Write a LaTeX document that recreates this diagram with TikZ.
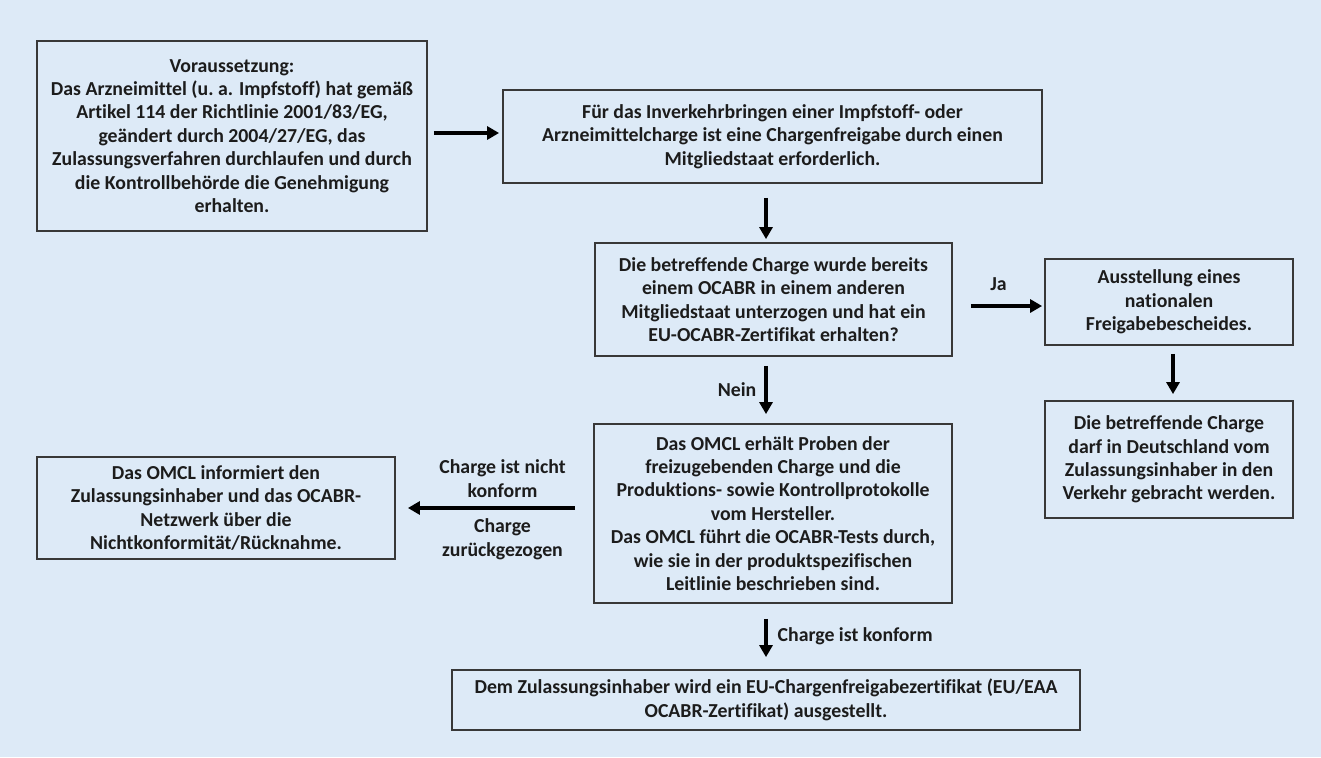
\documentclass[tikz,border=0pt]{standalone}
\usepackage{fontspec}
\setmainfont{Carlito}[Ligatures=NoCommon]
\usetikzlibrary{arrows.meta,calc,positioning}
\definecolor{chBack}{HTML}{DDEAF7}
\definecolor{chInk}{HTML}{1C1C1C}
\definecolor{chLine}{HTML}{383838}
\tikzset{
 chart/.style={font=\fontsize{19.8}{23.4}\selectfont\bfseries,text=chInk},
 flowbox/.style={rectangle,draw=chLine,fill=chBack,line width=1.8pt,align=center,inner sep=0pt},
 link/.style={draw=black,line width=3.4pt,-{Triangle[length=12pt,width=13pt]}},
 tag/.style={align=center,inner sep=2pt}
}

\begin{document}
\begin{tikzpicture}[chart,x=1pt,y=-1pt]
 \fill[chBack] (0,0) rectangle (1321,757);
 \useasboundingbox (0,0) rectangle (1321,757);
 % boxes
 \node[flowbox,minimum width=390,minimum height=190] (vor) at (232,136)
  {Voraussetzung:\\Das Arzneimittel (u.~a. Impfstoff) hat gemäß\\Artikel 114 der Richtlinie 2001/83/EG,\\geändert durch 2004/27/EG, das\\Zulassungsverfahren durchlaufen und durch\\die Kontrollbehörde die Genehmigung\\erhalten.};
 \node[flowbox,minimum width=539,minimum height=93] (inv) at (772.5,136.5)
  {Für das Inverkehrbringen einer Impfstoff- oder\\Arzneimittelcharge ist eine Chargenfreigabe durch einen\\Mitgliedstaat erforderlich.};
 \node[flowbox,minimum width=357,minimum height=113] (ocabr) at (773.5,299.5)
  {Die betreffende Charge wurde bereits\\einem OCABR in einem anderen\\Mitgliedstaat unterzogen und hat ein\\EU-OCABR-Zertifikat erhalten?};
 \node[flowbox,minimum width=248,minimum height=86] (nat) at (1169,302)
  {Ausstellung eines\\nationalen\\Freigabebescheides.};
 \node[flowbox,minimum width=248,minimum height=117] (darf) at (1169,459.5)
  {Die betreffende Charge\\darf in Deutschland vom\\Zulassungsinhaber in den\\Verkehr gebracht werden.};
 \node[flowbox,minimum width=358,minimum height=102] (info) at (216,508)
  {Das OMCL informiert den\\Zulassungsinhaber und das OCABR-\\Netzwerk über die\\Nichtkonformität/Rücknahme.};
 \node[flowbox,minimum width=358,minimum height=179] (omcl) at (773,513.5)
  {Das OMCL erhält Proben der\\freizugebenden Charge und die\\Produktions- sowie Kontrollprotokolle\\vom Hersteller.\\Das OMCL führt die OCABR-Tests durch,\\wie sie in der produktspezifischen\\Leitlinie beschrieben sind.};
 \node[flowbox,minimum width=628,minimum height=60] (cert) at (766,700)
  {Dem Zulassungsinhaber wird ein EU-Chargenfreigabezertifikat (EU/EAA\\OCABR-Zertifikat) ausgestellt.};
 % arrows
 \draw[link,shorten <=6pt,shorten >=3pt] (vor.east |- 0,133) -- (inv.west |- 0,133);
 \draw[link,shorten <=14pt,shorten >=3pt] (inv.south -| cert.north) -- (ocabr.north -| cert.north);
 \draw[link,shorten <=18pt,shorten >=2pt] (ocabr.east |- 0,306) -- (nat.west |- 0,306)
  node[midway,above=12pt,tag] {Ja};
 \draw[link,shorten <=8pt,shorten >=6pt] (nat.south -| 1173,0) -- (darf.north -| 1173,0);
 \draw[link,shorten <=9pt,shorten >=9pt] (ocabr.south -| cert.north) -- (omcl.north -| cert.north)
  node[midway,left=6pt,tag] {Nein};
 \draw[link,shorten <=18pt,shorten >=12pt] (omcl.west |- info.east) -- (info.east)
  node[midway,above=7pt,tag,xshift=8pt] {Charge ist nicht\\konform}
  node[midway,below=7pt,tag,xshift=8pt] {Charge\\zurückgezogen};
 \draw[link,shorten <=15pt,shorten >=12pt] (omcl.south -| cert.north) -- (cert.north)
  node[midway,right=8pt,tag] {Charge ist konform};
\end{tikzpicture}
\end{document}
